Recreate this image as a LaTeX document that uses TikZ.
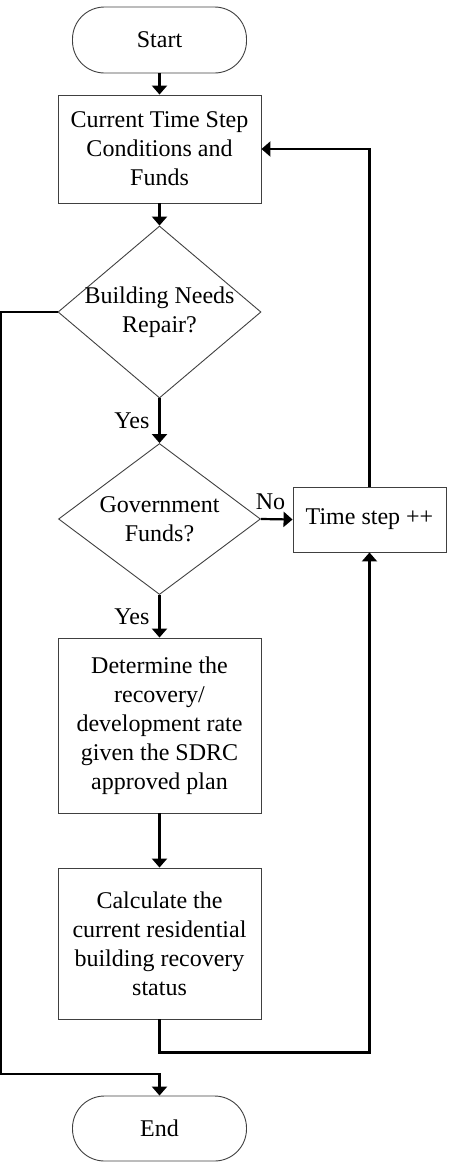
\documentclass[tikz,border=0pt]{standalone}
\usepackage{fontspec}
\setmainfont{Liberation Serif}
\usetikzlibrary{arrows.meta,shapes.geometric}
\begin{document}
\begin{tikzpicture}[x=1pt,y=-1pt,
  box/.style={draw=black!75,line width=0.9pt,rectangle,inner sep=0pt,align=center,font=\fontsize{24}{29}\selectfont},
  term/.style={box,rounded corners=32pt},
  dec/.style={draw=black!75,line width=0.9pt,diamond,inner sep=0pt},
  txt/.style={align=center,inner sep=0pt,font=\fontsize{24}{29}\selectfont},
  arr/.style={line width=2.2pt,-{Triangle[width=15pt,length=9pt]}}]
\useasboundingbox (0,0) rectangle (451,1163);
\node[term,minimum width=174pt,minimum height=66pt] (st) at (159.5,40) {Start};
\node[box,minimum width=203pt,minimum height=108pt] (b1) at (159.5,149) {Current Time Step\\Conditions and\\Funds};
\node[dec,minimum width=203pt,minimum height=172pt] (d1) at (159.5,312) {};
\node[txt] (t1) at (d1.center) {Building Needs\\Repair?};
\node[dec,minimum width=202pt,minimum height=151pt] (d2) at (159.5,519) {};
\node[txt] (t2) at (d2.center) {Government\\Funds?};
\node[box,minimum width=153pt,minimum height=65pt] (ts) at (369.5,519.5) {Time step ++};
\node[box,minimum width=203pt,minimum height=175pt] (b3) at (159.5,725.5) {Determine the\\recovery/\\development rate\\given the SDRC\\approved plan};
\node[box,minimum width=203pt,minimum height=151pt] (b4) at (159.5,943.5) {Calculate the\\current residential\\building recovery\\status};
\node[term,minimum width=174pt,minimum height=65pt] (en) at (159.5,1128.5) {End};
\coordinate (cL) at (1.2,1074);
\draw[arr] (st) -- (b1);
\draw[arr] (b1) -- (d1.north);
\draw[arr] (d1.south) -- node[txt,left=9pt] (y1) {Yes} (d2.north);
\draw[arr] (d2.east) -- node[txt,above=8pt,pos=0.3] (n1) {No} (ts.west);
\draw[arr] (d2.south) -- node[txt,left=9pt] (y2) {Yes} (b3.north);
\draw[arr] (b3) -- (b4);
\draw[arr] (ts.north) |- (b1.east);
\draw[arr] (b4.south) -- ++(0,33) -| (ts.south);
\draw[arr] (d1.west) -| (cL) -| (en.north);
\end{tikzpicture}
\end{document}
